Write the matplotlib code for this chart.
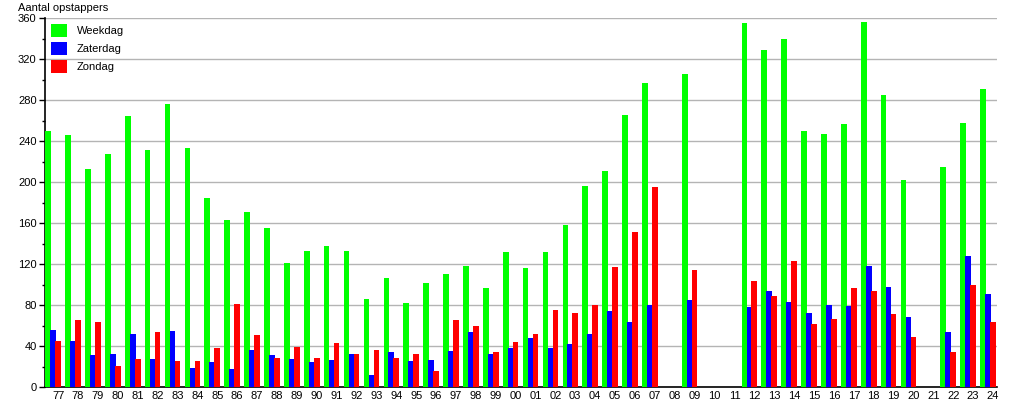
import numpy as np
import matplotlib.pyplot as plt

nan = np.nan

jaren = ['77', '78', '79', '80', '81', '82', '83', '84', '85', '86', '87', '88',
         '89', '90', '91', '92', '93', '94', '95', '96', '97', '98', '99', '00',
         '01', '02', '03', '04', '05', '06', '07', '08', '09', '10', '11', '12',
         '13', '14', '15', '16', '17', '18', '19', '20', '21', '22', '23', '24']

weekdag = [250, 246, 213, 227, 264, 231, 276, 233, 185, 163, 171, 155,
           121, 133, 138, 133, 86, 107, 82, 102, 110, 118, 97, 132,
           116, 132, 158, 196, 211, 265, 297, nan, 305, nan, nan, 355,
           329, 340, 250, 247, 257, 356, 285, 202, nan, 215, 258, 291]

zaterdag = [56, 45, 31, 32, 52, 28, 55, 19, 25, 18, 36, 31,
            28, 25, 27, 32, 12, 34, 26, 27, 35, 54, 32, 38,
            48, 38, 42, 52, 74, 64, 80, nan, 85, nan, nan, 78,
            94, 83, 72, 80, 79, 118, 98, 69, nan, 54, 128, 91]

zondag = [45, 66, 64, 21, 28, 54, 26, 26, 38, 81, 51, 29,
          39, 29, 43, 32, 36, 29, 32, 16, 66, 60, 34, 44,
          52, 75, 72, 80, 117, 151, 195, nan, 114, nan, nan, 104,
          89, 123, 62, 67, 97, 94, 71, 49, nan, 34, 100, 64]

plt.rcParams['font.family'] = ['Liberation Sans', 'DejaVu Sans']

fig = plt.figure(figsize=(10.15, 4.0), dpi=100)
ax = fig.add_axes([45 / 1015, 12.7 / 400, 952 / 1015, 369.3 / 400])

x = np.arange(len(jaren))
w = 0.285
# groen, blauw, rood naast elkaar; label staat onder de rode balk
ax.bar(x - 0.5, weekdag, w, color='#00ff00', label='Weekdag', zorder=3)
ax.bar(x - 0.25, zaterdag, w, color='#0000ff', label='Zaterdag', zorder=3)
ax.bar(x, zondag, w, color='#ff0000', label='Zondag', zorder=3)

ax.set_xlim(-0.66, 47.2)
ax.set_ylim(0, 360)
ax.set_xticks(x)
ax.set_xticklabels(jaren, fontsize=8)
ax.tick_params(axis='x', length=0, pad=3)
ax.set_yticks(np.arange(0, 361, 40))
ax.set_yticks(np.arange(0, 361, 20), minor=True)
ax.tick_params(axis='y', which='major', length=4, width=1, labelsize=8, pad=2)
ax.tick_params(axis='y', which='minor', length=2, width=1)
ax.grid(axis='y', color='#b4b4b4', linewidth=1, zorder=0)
ax.set_axisbelow(True)
for s in ['top', 'right']:
    ax.spines[s].set_visible(False)
ax.spines['left'].set_linewidth(1.2)
ax.spines['bottom'].set_linewidth(1.2)

ax.legend(loc='upper left', bbox_to_anchor=(0.0, 1.0), frameon=False, fontsize=8,
          handlelength=1.4, handleheight=1.4, handletextpad=0.9, labelspacing=0.45,
          borderaxespad=0.15)

fig.text(18 / 1015, 1 - 3 / 400, 'Aantal opstappers', fontsize=8, va='top', ha='left')

plt.savefig('out.png', dpi=100)
